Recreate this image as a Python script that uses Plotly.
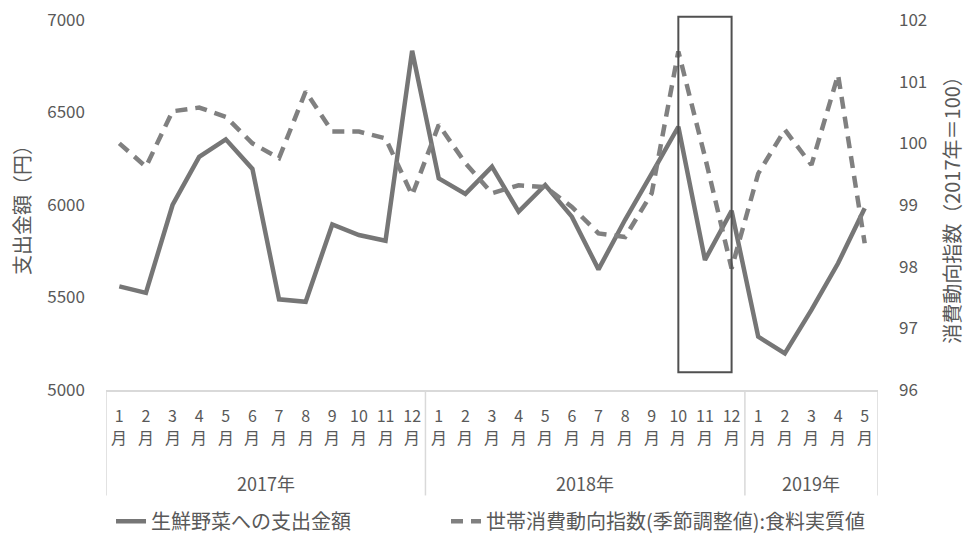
import plotly.graph_objects as go

# Monthly figures, Jan 2017 - May 2019
years = ["2017年"] * 12 + ["2018年"] * 12 + ["2019年"] * 5
months = list(range(1, 13)) + list(range(1, 13)) + list(range(1, 6))

# 生鮮野菜への支出金額 (円)
spending = [5560, 5525, 6000, 6260, 6355, 6195, 5490, 5477, 5895, 5838, 5807, 6834,
            6144, 6060, 6207, 5964, 6108, 5937, 5652, 5920, 6170, 6423, 5703, 5969,
            5288, 5198, 5433, 5685, 5982]

# 世帯消費動向指数(季節調整値):食料実質値 (2017年=100)
cons_index = [100.00, 99.62, 100.52, 100.58, 100.43, 100.00, 99.76, 100.84, 100.19, 100.19, 100.08, 99.16,
              100.30, 99.68, 99.19, 99.32, 99.29, 98.97, 98.54, 98.48, 99.19, 101.49, 99.78, 97.97,
              99.51, 100.22, 99.65, 101.11, 98.38]

# Highlighted span: Oct - Dec 2018
highlight = (("2018年", 10), ("2018年", 12))

FONT = "Noto Sans CJK JP"
TEXT = "#595959"
AXIS = "#d9d9d9"

x = list(range(len(months)))

fig = go.Figure()
fig.add_trace(go.Scatter(
    x=x, y=spending, name="生鮮野菜への支出金額", mode="lines",
    line=dict(color="#767676", width=4.5), yaxis="y", legend="legend"))
fig.add_trace(go.Scatter(
    x=x, y=cons_index, name="世帯消費動向指数(季節調整値):食料実質値", mode="lines",
    line=dict(color="#808080", width=4.5, dash="12px,8px"), yaxis="y2", legend="legend2"))

# Second line of each month label ("月") under the month number
for xi in x:
    fig.add_annotation(x=xi, y=-0.127, xref="x", yref="paper", text="月", showarrow=False,
                       yanchor="middle", font=dict(family=FONT, size=16, color=TEXT))

# Year groups: labels and dividers under the month labels
year_order = []
for yname in years:
    if yname not in year_order:
        year_order.append(yname)
bounds = [-0.5]
for yname in year_order:
    idxs = [i for i, v in enumerate(years) if v == yname]
    fig.add_annotation(x=(idxs[0] + idxs[-1]) / 2, y=-0.25, xref="x", yref="paper",
                       text=yname, showarrow=False, yanchor="middle",
                       font=dict(family=FONT, size=18, color=TEXT))
    bounds.append(idxs[-1] + 0.5)
for b in bounds:
    fig.add_shape(type="line", xref="x", yref="paper", x0=b, x1=b, y0=0, y1=-0.285,
                  line=dict(color=AXIS, width=1.5))

# Box around the highlighted months
i0 = next(i for i in x if years[i] == highlight[0][0] and months[i] == highlight[0][1])
i1 = next(i for i in x if years[i] == highlight[1][0] and months[i] == highlight[1][1])
fig.add_shape(type="rect", xref="x", yref="paper", x0=i0, x1=i1, y0=0.048, y1=1.009,
              line=dict(color="#505050", width=2), fillcolor="rgba(0,0,0,0)")

legend_style = dict(orientation="h", yanchor="middle", xanchor="left", y=-0.355,
                    font=dict(family=FONT, size=20, color=TEXT), bgcolor="rgba(0,0,0,0)")

fig.update_layout(
    width=968, height=538,
    margin=dict(l=106, r=90, t=20, b=148, autoexpand=False),
    paper_bgcolor="white", plot_bgcolor="white",
    font=dict(family=FONT, color=TEXT),
    showlegend=True,
    legend=dict(x=0.0065, **legend_style),
    legend2=dict(x=0.4404, **legend_style),
    xaxis=dict(range=[-0.5, len(x) - 0.5], tickmode="array", tickvals=x,
               ticktext=[str(m) for m in months],
               showgrid=False, zeroline=False, showline=True, linecolor=AXIS, linewidth=2,
               ticks="", tickfont=dict(family=FONT, size=16, color=TEXT),
               ticklabelstandoff=11, automargin=False),
    yaxis=dict(range=[5000, 7000], dtick=500, showgrid=False, zeroline=False, showline=False,
               ticks="", tickfont=dict(family=FONT, size=17, color=TEXT),
               ticklabelstandoff=20, automargin=False,
               title=dict(text="支出金額（円）", font=dict(family=FONT, size=20, color=TEXT),
                          standoff=11)),
    yaxis2=dict(range=[96, 102], dtick=1, overlaying="y", side="right", showgrid=False,
                zeroline=False, showline=False, ticks="",
                tickfont=dict(family=FONT, size=17, color=TEXT),
                ticklabelstandoff=20, automargin=False,
                title=dict(text="消費動向指数（2017年＝100）",
                           font=dict(family=FONT, size=20, color=TEXT), standoff=19)),
)

fig.write_html("out.html")
